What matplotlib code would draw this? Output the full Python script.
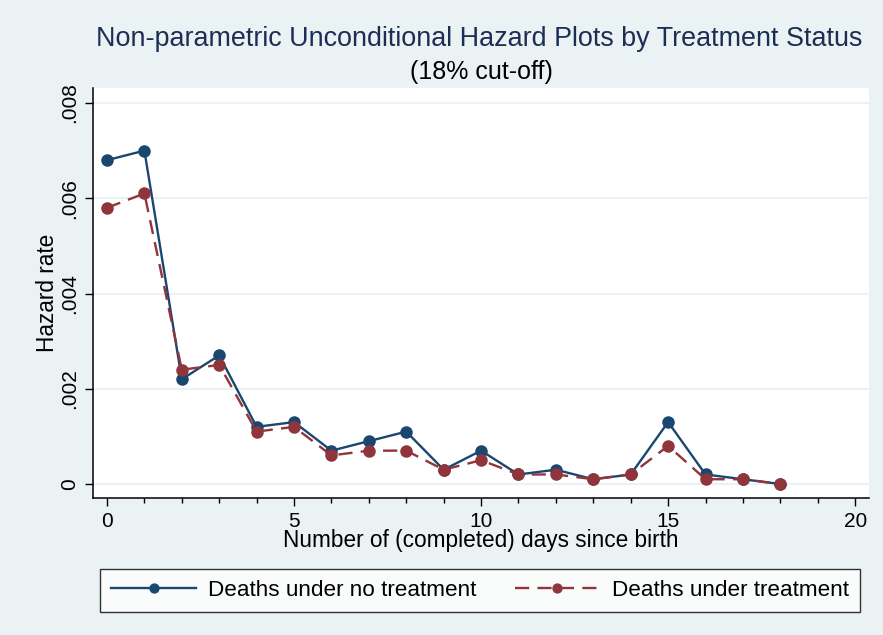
import matplotlib
matplotlib.use("Agg")
import matplotlib.pyplot as plt
from matplotlib.ticker import MultipleLocator

plt.rcParams['font.family'] = ['Liberation Sans', 'DejaVu Sans']

days = list(range(19))
no_treatment = [0.0068, 0.0070, 0.0022, 0.0027, 0.0012, 0.0013, 0.0007, 0.0009, 0.0011, 0.0003,
                0.0007, 0.0002, 0.0003, 0.0001, 0.0002, 0.0013, 0.0002, 0.0001, 0.0000]
treatment = [0.0058, 0.0061, 0.0024, 0.0025, 0.0011, 0.0012, 0.0006, 0.0007, 0.0007, 0.0003,
             0.0005, 0.0002, 0.0002, 0.0001, 0.0002, 0.0008, 0.0001, 0.0001, 0.0000]
y_ticks = [0, 0.002, 0.004, 0.006, 0.008]
y_ticklabels = ["0", ".002", ".004", ".006", ".008"]
x_ticks = [0, 5, 10, 15, 20]

bg = '#EAF2F3'
blue = '#1A476F'
red = '#90353B'

fig = plt.figure(figsize=(8.83, 6.35), dpi=100, facecolor=bg)
ax = fig.add_axes([93/883, 1-498/635, (869-93)/883, (498-88)/635])
ax.set_facecolor('white')

for y in y_ticks:
    ax.axhline(y, color='#EAF2F3', lw=1.5, zorder=0)

l1, = ax.plot(days, no_treatment, color=blue, lw=1.7, marker='o', ms=8,
              label='Deaths under no treatment', zorder=3)
l2, = ax.plot(days, treatment, color=red, lw=1.7, ls=(0, (6, 3.5)), marker='o', ms=8,
              label='Deaths under treatment', zorder=4)

ax.set_xlim(-0.374, 20.37)
ax.set_ylim(-0.000294, 0.008315)
ax.set_xticks(x_ticks)
ax.xaxis.set_minor_locator(MultipleLocator(1))
ax.set_yticks(y_ticks)
ax.set_yticklabels(y_ticklabels, rotation=90, va='center')
ax.tick_params(axis='both', which='major', length=6, width=1, labelsize=15, colors='black', pad=4)
ax.tick_params(axis='x', which='minor', length=3.5, width=1)
for s in ['top', 'right']:
    ax.spines[s].set_visible(False)
for s in ['left', 'bottom']:
    ax.spines[s].set_linewidth(1.1)

ax.set_xlabel('Number of (completed) days since birth', fontsize=16.3, labelpad=-1)
ax.set_ylabel('Hazard rate', fontsize=16.3, labelpad=1)

fig.text(479.5/883, 1-38.5/635, 'Non-parametric Unconditional Hazard Plots by Treatment Status',
         ha='center', va='center', fontsize=19.4, color='#1C2D56')
fig.text(481/883, 1-72/635, '(18% cut-off)', ha='center', va='center', fontsize=18, color='black')

leg = fig.legend(handles=[l1, l2], loc='center', ncol=2,
                 bbox_to_anchor=(480/883, 1-590.5/635), fontsize=16.2,
                 frameon=True, fancybox=False, edgecolor='black', facecolor='white',
                 handlelength=3.78, columnspacing=1.69, borderpad=0.5, handletextpad=0.53,
                 markerscale=0.8, borderaxespad=0)
leg.get_frame().set_linewidth(1.0)

fig.savefig('out.png', dpi=100, facecolor=bg)
